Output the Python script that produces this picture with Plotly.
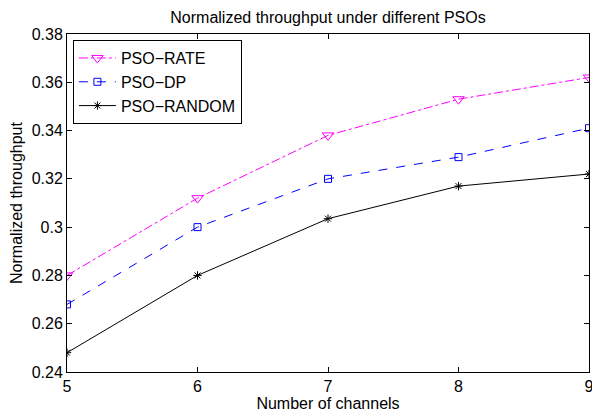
import plotly.graph_objects as go

channels = [5, 6, 7, 8, 9]
pso_rate = [0.280, 0.312, 0.338, 0.353, 0.362]
pso_dp = [0.268, 0.300, 0.320, 0.329, 0.341]
pso_random = [0.248, 0.280, 0.3035, 0.317, 0.322]
y_ticks = [0.24, 0.26, 0.28, 0.3, 0.32, 0.34, 0.36, 0.38]
y_labels = ["0.24", "0.26", "0.28", "0.3", "0.32", "0.34", "0.36", "0.38"]

fig = go.Figure()
fig.add_trace(go.Scatter(x=channels, y=pso_rate, name="PSO\u2212RATE", mode="lines+markers",
                         line=dict(color="#ff00ff", width=1, dash="dashdot"),
                         marker=dict(symbol="triangle-down-open", size=10, color="#ff00ff")))
fig.add_trace(go.Scatter(x=channels, y=pso_dp, name="PSO\u2212DP", mode="lines+markers",
                         line=dict(color="#0000ff", width=1, dash="dash"),
                         marker=dict(symbol="square-open", size=7, color="#0000ff")))
fig.add_trace(go.Scatter(x=channels, y=pso_random, name="PSO\u2212RANDOM", mode="lines+markers",
                         line=dict(color="black", width=1),
                         marker=dict(symbol="asterisk-open", size=7, color="black",
                                     line=dict(width=1, color="black"))))

axis_common = dict(showline=True, linecolor="black", linewidth=1, mirror="ticks", ticks="inside",
                   ticklen=5, tickcolor="black", showgrid=False, zeroline=False,
                   tickfont=dict(size=16, color="black"), ticklabeloverflow="allow")
fig.update_xaxes(range=[5, 9], tickvals=channels,
                 title=dict(text="Number of channels", standoff=0, font=dict(size=16, color="black")),
                 **axis_common)
fig.update_yaxes(range=[0.24, 0.38], tickvals=y_ticks, ticktext=y_labels,
                 title=dict(text="Normalized throughput", standoff=6, font=dict(size=16, color="black")),
                 **axis_common)

# page body has an 8px margin, so the figure is drawn at (8, 8)
fig.update_layout(
    width=592, height=404,
    margin=dict(l=57, r=6, t=26, b=39),
    paper_bgcolor="white", plot_bgcolor="white",
    font=dict(family="Liberation Sans, Arial, sans-serif", color="black"),
    title=dict(text="Normalized throughput under different PSOs", x=0.5, xanchor="center",
               xref="paper", yref="container", y=1 - 9 / 404, yanchor="middle",
               font=dict(size=16, color="black")),
    legend=dict(x=0.0113, y=0.982, xanchor="left", yanchor="top", bordercolor="black", borderwidth=1,
                bgcolor="white", font=dict(size=16, color="black"), tracegroupgap=0,
                itemwidth=37),
    showlegend=True,
)

fig.write_html("out.html")
